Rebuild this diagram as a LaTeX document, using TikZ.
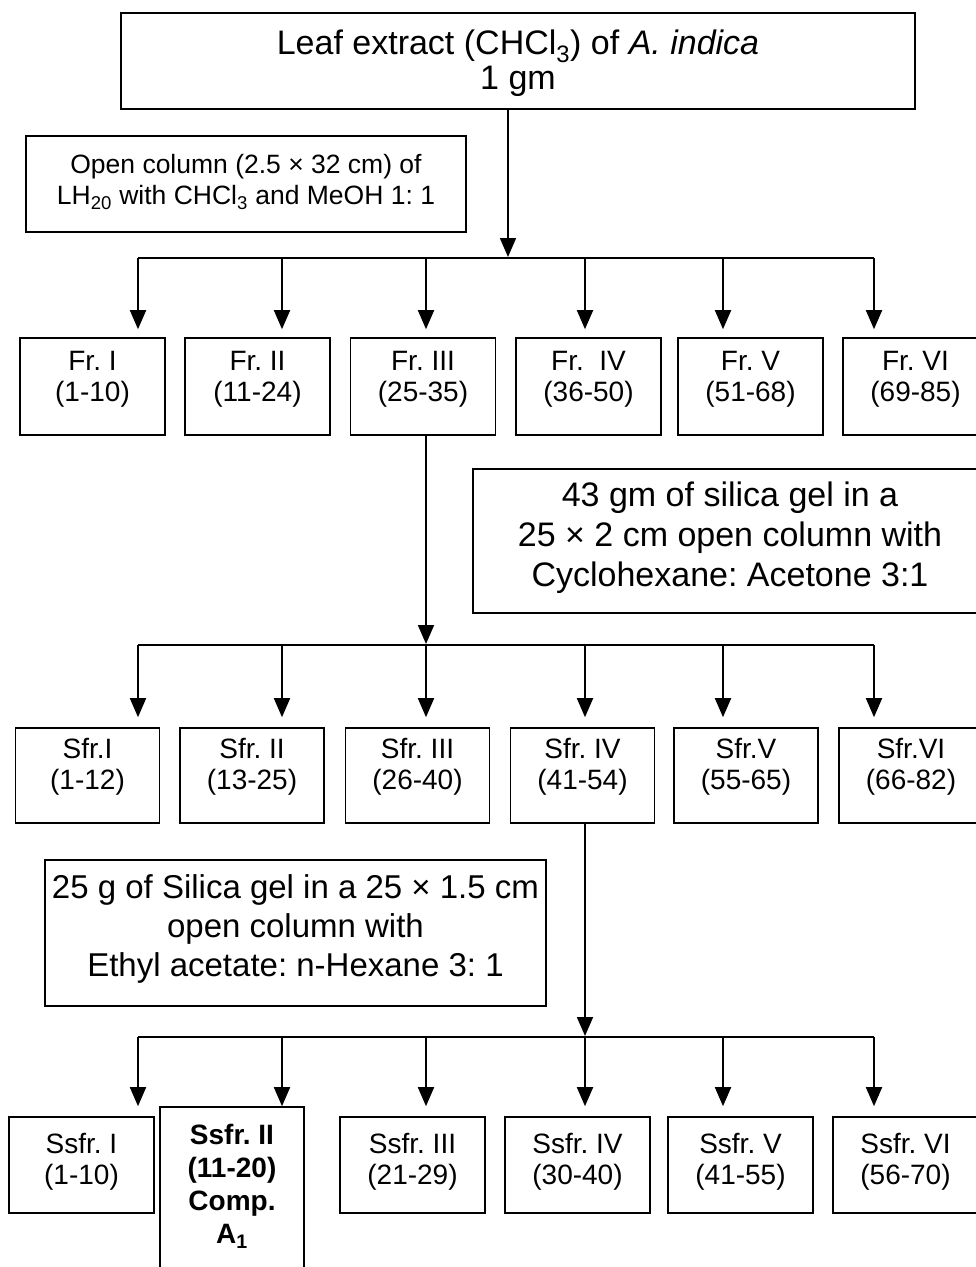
\documentclass[tikz,border=0pt]{standalone}
\usepackage{fontspec}
\setmainfont{Liberation Sans}
\usetikzlibrary{arrows.meta,calc}
\frenchspacing
\begin{document}
\begin{tikzpicture}[x=1pt,y=-1pt,
  box/.style={draw, line width=1.6pt, inner sep=0pt},
  frbox/.style={box, minimum width=145pt, minimum height=97pt},
  sfrbox/.style={box, minimum width=144pt, minimum height=95pt},
  ssfrbox/.style={box, minimum width=145pt, minimum height=96pt},
  arr/.style={line width=1.8pt, -{Triangle[length=19pt,width=16pt]}},
  ln/.style={line width=1.8pt},
  tsmall/.style={font=\fontsize{28}{31}\selectfont, align=center, yshift=3pt},
  tfr/.style={tsmall, yshift=4pt},
  tsfr/.style={tsmall, yshift=6pt},
  tbold/.style={font=\fontsize{28}{33}\selectfont\bfseries, align=center, yshift=12pt},
  tbig/.style={font=\fontsize{34}{35}\selectfont, align=center, yshift=-2pt},
  tmid/.style={font=\fontsize{34}{40}\selectfont, align=center, yshift=3pt},
  tmid2/.style={font=\fontsize{33}{39}\selectfont, align=center, yshift=4pt},
  tnote/.style={font=\fontsize{26.5}{31}\selectfont, align=center, yshift=2pt}
]
\useasboundingbox (0,0) rectangle (976,1267);
\clip (0,0) rectangle (976,1267);
\fill[white] (0,0) rectangle (976,1267);

% top
\node[box, minimum width=794pt, minimum height=96pt,
  label={[tbig]center:{Leaf extract (CHCl\textsubscript{3}) of \textit{A. indica}\\1 gm}}] (top) at (518,61) {};
\node[box, minimum width=440pt, minimum height=96pt,
  label={[tnote]center:{Open column (2.5 × 32 cm) of\\LH\textsubscript{20} with CHCl\textsubscript{3} and MeOH 1: 1}}] (note1) at (246,184) {};

% level 1
\coordinate (m0) at (508,258);
\coordinate (p11) at (138,258);
\coordinate (p12) at (282,258);
\coordinate (p13) at (426,258);
\coordinate (p14) at (585,258);
\coordinate (p15) at (723,258);
\coordinate (p16) at (874,258);

\node[frbox, label={[tfr]center:{Fr. I\\(1-10)}}] (fr1) at (92.5,386.5) {};
\node[frbox, label={[tfr]center:{Fr. II\\(11-24)}}] (fr2) at (257.5,386.5) {};
\node[frbox, label={[tfr]center:{Fr. III\\(25-35)}}] (fr3) at (423,386.5) {};
\node[frbox, label={[tfr]center:{Fr.\ \ IV\\(36-50)}}] (fr4) at (588.5,386.5) {};
\node[frbox, label={[tfr]center:{Fr. V\\(51-68)}}] (fr5) at (750.5,386.5) {};
\node[frbox, label={[tfr]center:{Fr. VI\\(69-85)}}] (fr6) at (915.5,386.5) {};

\draw[arr, shorten >=1pt] (m0 |- top.south) -- (m0);
\draw[ln] (p11) -- (p16);
\foreach \i in {1,...,6}{
  \draw[arr, shorten >=8pt] (p1\i) -- (p1\i |- fr\i.north);
}

% note 2
\node[box, minimum width=514pt, minimum height=144pt,
  label={[tmid]center:{43 gm of silica gel in a\\25 × 2 cm open column with\\Cyclohexane: Acetone 3:1}}] (note2) at (730,541) {};

% level 2
\coordinate (p21) at (138,645);
\coordinate (p22) at (282,645);
\coordinate (p23) at (426,645);
\coordinate (p24) at (585,645);
\coordinate (p25) at (723,645);
\coordinate (p26) at (874,645);

\node[sfrbox, label={[tsfr]center:{Sfr.I\\(1-12)}}] (sfr1) at (87.5,775.5) {};
\node[sfrbox, label={[tsfr]center:{Sfr. II\\(13-25)}}] (sfr2) at (252,775.5) {};
\node[sfrbox, label={[tsfr]center:{Sfr. III\\(26-40)}}] (sfr3) at (417.5,775.5) {};
\node[sfrbox, label={[tsfr]center:{Sfr. IV\\(41-54)}}] (sfr4) at (582.5,775.5) {};
\node[sfrbox, label={[tsfr]center:{Sfr.V\\(55-65)}}] (sfr5) at (746,775.5) {};
\node[sfrbox, label={[tsfr]center:{Sfr.VI\\(66-82)}}] (sfr6) at (911,775.5) {};

\draw[arr, shorten >=1pt] (p13 |- fr3.south) -- (p23);
\draw[ln] (p21) -- (p26);
\foreach \i in {1,...,6}{
  \draw[arr, shorten >=10pt] (p2\i) -- (p2\i |- sfr\i.north);
}

% note 3
\node[box, minimum width=501pt, minimum height=146pt,
  label={[tmid2]center:{25 g of Silica gel in a 25 × 1.5 cm\\open column with\\Ethyl acetate: n-Hexane 3: 1}}] (note3) at (295.5,933) {};

% level 3
\coordinate (p31) at (138,1037);
\coordinate (p32) at (282,1037);
\coordinate (p33) at (426,1037);
\coordinate (p34) at (585,1037);
\coordinate (p35) at (723,1037);
\coordinate (p36) at (874,1037);

\node[ssfrbox, label={[tsmall]center:{Ssfr. I\\(1-10)}}] (ssfr1) at (81.5,1165) {};
\node[box, minimum width=144pt, minimum height=183pt,
  label={[tbold]center:{Ssfr. II\\(11-20)\\Comp.\\A\textsubscript{1}}}] (ssfr2) at (232,1198.5) {};
\node[ssfrbox, label={[tsmall]center:{Ssfr. III\\(21-29)}}] (ssfr3) at (412.5,1165) {};
\node[ssfrbox, label={[tsmall]center:{Ssfr. IV\\(30-40)}}] (ssfr4) at (577.5,1165) {};
\node[ssfrbox, label={[tsmall]center:{Ssfr. V\\(41-55)}}] (ssfr5) at (740.5,1165) {};
\node[ssfrbox, label={[tsmall]center:{Ssfr. VI\\(56-70)}}] (ssfr6) at (905.5,1165) {};

\draw[arr, shorten >=1pt] (p24 |- sfr4.south) -- (p34);
\draw[ln] (p31) -- (p36);
\draw[arr, shorten >=10pt] (p31) -- (p31 |- ssfr1.north);
\draw[arr] (p32) -- (p32 |- ssfr2.north);
\foreach \i in {3,...,6}{
  \draw[arr, shorten >=10pt] (p3\i) -- (p3\i |- ssfr\i.north);
}
\end{tikzpicture}
\end{document}
